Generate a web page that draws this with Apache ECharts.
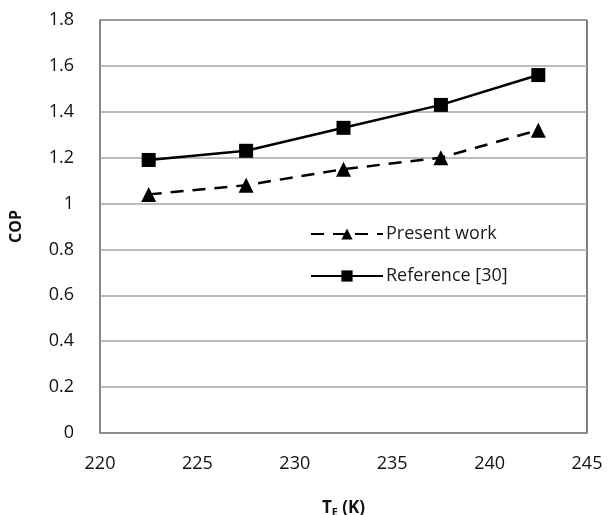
<!DOCTYPE html>
<html>
<head>
<meta charset="utf-8">
<script src="https://cdn.jsdelivr.net/npm/echarts@6/dist/echarts.min.js"></script>
<style>
  html, body { margin: 0; padding: 0; background: #fff; }
  #chart { width: 609px; height: 515px; }
</style>
</head>
<body>
<div id="chart"></div>
<script>
const temps = [222.5, 227.5, 232.5, 237.5, 242.5]
const presentWork = [1.04, 1.08, 1.15, 1.20, 1.32]
const reference30 = [1.19, 1.23, 1.33, 1.43, 1.56]

const font = '"Open Sans", "Liberation Sans", sans-serif'

var myChart = echarts.init(document.getElementById('chart'))
var option = {
    animation: false,
    textStyle: { fontFamily: font },
    grid: {
        left: 100, right: 22, top: 20, bottom: 82,
        outerBoundsMode: 'none',
        containLabel: false,
        show: true, borderColor: '#000', borderWidth: 1
    },
    legend: {
        left: 305, top: 220,
        orient: 'vertical',
        itemGap: 24,
        itemWidth: 72,
        itemHeight: 14,
        textStyle: { fontFamily: font, fontSize: 18, color: '#1a1a1a', padding: [0, 0, 0, -2] },
        data: ['Present work', 'Reference [30]']
    },
    xAxis: {
        type: 'value',
        min: 220, max: 245, interval: 5,
        name: '{b|T}{s|E}{b| (K)}',
        nameLocation: 'middle',
        nameGap: 66,
        nameTextStyle: {
            rich: {
                b: { fontFamily: font, fontSize: 17, fontWeight: 'bold', color: '#111' },
                s: { fontFamily: font, fontSize: 11, fontWeight: 'bold', color: '#111', verticalAlign: 'bottom', padding: [8, 0, 0, 0] }
            }
        },
        axisLine: { lineStyle: { color: '#888', width: 1.5 } },
        axisTick: { show: false },
        splitLine: { show: false },
        axisLabel: { fontFamily: font, fontSize: 18, color: '#111', margin: 22 }
    },
    yAxis: {
        type: 'value',
        min: 0, max: 1.8, interval: 0.2,
        name: 'COP',
        nameLocation: 'middle',
        nameGap: 76,
        nameTextStyle: { fontFamily: font, fontSize: 16, fontWeight: 'bold', color: '#111' },
        axisLine: { show: true, lineStyle: { color: '#888', width: 1.5 } },
        axisTick: { show: false },
        splitLine: { lineStyle: { color: '#a6a6a6', width: 1.5 } },
        axisLabel: {
            fontFamily: font, fontSize: 18, color: '#111', margin: 26,
            formatter: v => String(Math.round(v * 10) / 10)
        }
    },
    series: [
        {
            name: 'Present work',
            type: 'line',
            data: temps.map((t, i) => [t, presentWork[i]]),
            symbol: 'triangle',
            symbolSize: 15,
            itemStyle: { color: '#000' },
            lineStyle: { color: '#000', width: 2.5, type: [13, 9] }
        },
        {
            name: 'Reference [30]',
            type: 'line',
            data: temps.map((t, i) => [t, reference30[i]]),
            symbol: 'rect',
            symbolSize: 14,
            itemStyle: { color: '#000' },
            lineStyle: { color: '#000', width: 2.5 }
        }
    ]
}
myChart.setOption(option)
</script>
</body>
</html>
